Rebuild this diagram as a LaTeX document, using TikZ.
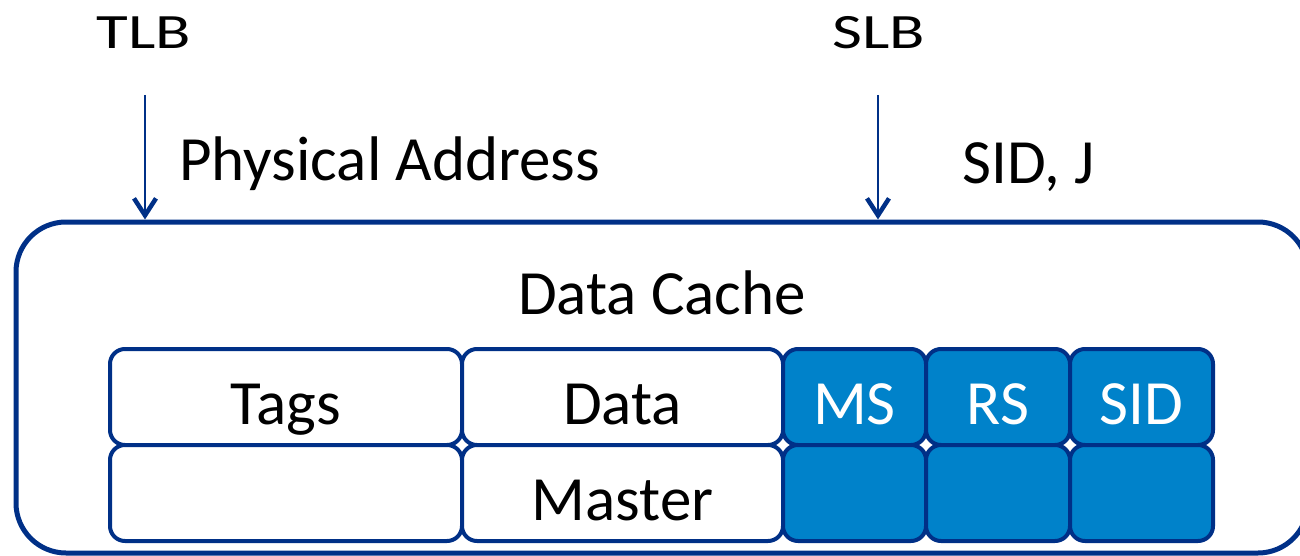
\documentclass[tikz,border=0pt]{standalone}
\usepackage{fontspec}
\setmainfont{Carlito}
\usetikzlibrary{arrows.meta,calc}
\definecolor{edge}{RGB}{0,48,135}
\definecolor{cellblue}{RGB}{0,130,202}
\begin{document}
\begin{tikzpicture}[x=1pt,y=-1pt,
  lab/.style={anchor=base, inner sep=0pt, font=\fontsize{63}{70}\selectfont},
  toplab/.style={anchor=base, inner sep=0pt, font=\fontsize{65}{70}\selectfont},
  cell/.style={draw=edge, line width=4pt, rounded corners=15pt,
    minimum height=96pt, inner sep=0pt, fill=white},
  bluecell/.style={cell, fill=cellblue},
  arr/.style={draw=edge, line width=2pt,
    -{Straight Barb[length=17pt, width=22pt, line width=4.5pt]}},
]
\useasboundingbox (0,0) rectangle (1300,556);
\clip (0,0) rectangle (1300,556);

% outer cache block
\node[draw=edge, line width=5pt, rounded corners=50pt, inner sep=0pt,
  minimum width=1292pt, minimum height=331pt] (cache) at (662,387.5) {};
\node[lab] (cachelab) at (662,314) {Data Cache};

% top labels (wide lettering)
\node[toplab] (tlb) at (144,49) {\scalebox{1}[0.76]{TLB}};
\node[toplab] (slb) at (879,49) {\scalebox{1}[0.76]{SLB}};
\node[lab, anchor=base west] (pa) at (179,181) {Physical Address};
\node[lab, anchor=base west] (sidj) at (962,184) {SID, J};

% arrows into the cache
\coordinate (tlbA) at (145,95);
\coordinate (slbA) at (878,95);
\draw[arr] (tlbA) -- (tlbA |- cache.north);
\draw[arr] (slbA) -- (slbA |- cache.north);

% first row of fields
\node[cell, minimum width=352pt] (tags) at (286,397) {};
\node[cell, minimum width=321pt] (data) at (622.5,397) {};
\node[bluecell, minimum width=143pt] (ms) at (854.5,397) {};
\node[bluecell, minimum width=144pt] (rs) at (998,397) {};
\node[bluecell, minimum width=143pt] (sid) at (1141.5,397) {};

% second row of fields
\node[cell, minimum width=352pt] (tags2) at (286,493) {};
\node[cell, minimum width=321pt] (master) at (622.5,493) {};
\node[bluecell, minimum width=143pt] (ms2) at (854.5,493) {};
\node[bluecell, minimum width=144pt] (rs2) at (998,493) {};
\node[bluecell, minimum width=143pt] (sid2) at (1141.5,493) {};

% field names
\node[lab] (tagsT) at ($(tags.center)+(0,27)$) {Tags};
\node[lab] (dataT) at ($(data.center)+(0,27)$) {Data};
\node[lab, text=white] (msT) at ($(ms.center)+(0,27)$) {MS};
\node[lab, text=white] (rsT) at ($(rs.center)+(0,27)$) {RS};
\node[lab, text=white] (sidT) at ($(sid.center)+(0,27)$) {SID};
\node[lab] (masterT) at ($(master.center)+(0,27)$) {Master};
\end{tikzpicture}
\end{document}
